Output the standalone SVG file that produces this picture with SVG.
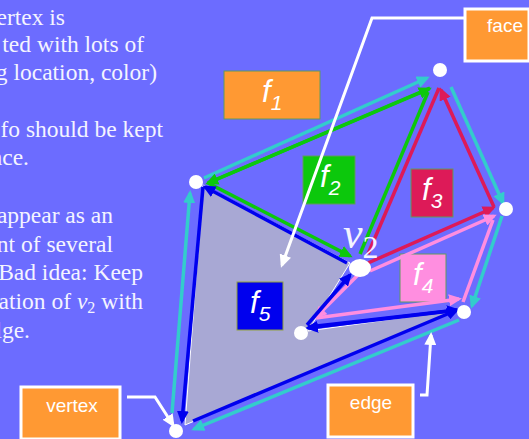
<svg xmlns="http://www.w3.org/2000/svg" width="529" height="439" viewBox="0 0 529 439">
<style>
.t{font-family:"Liberation Serif",serif;font-size:23.5px;fill:#f4f4ff;text-anchor:end}
.s{font-family:"Liberation Sans",Arial,sans-serif;fill:#fff}
.i{font-style:italic;font-size:31px}
.b{font-size:19px;text-anchor:middle}
.sub{font-size:21px;font-style:italic}
.l{fill:none;stroke-width:3.5}
.teal{stroke:#33cccc}.grn{stroke:#0cc80c}.red{stroke:#dd1a58}.pnk{stroke:#ff8ee0}.blu{stroke:#0000ee}
.wh{fill:none;stroke:#fff;stroke-width:3}
.d{fill:#fff}
.fb{stroke:#5f9a60;stroke-width:1}
.lb{fill:#ff9933;stroke:#fff;stroke-width:3}
</style>
<defs>
<marker id="mt" markerUnits="userSpaceOnUse" markerWidth="14" markerHeight="12" refX="10" refY="6" orient="auto"><path d="M0 0L13 6L0 12z" fill="#33cccc"/></marker>
<marker id="mg" markerUnits="userSpaceOnUse" markerWidth="14" markerHeight="12" refX="10" refY="6" orient="auto"><path d="M0 0L13 6L0 12z" fill="#0cc80c"/></marker>
<marker id="mr" markerUnits="userSpaceOnUse" markerWidth="14" markerHeight="12" refX="10" refY="6" orient="auto"><path d="M0 0L13 6L0 12z" fill="#dd1a58"/></marker>
<marker id="mp" markerUnits="userSpaceOnUse" markerWidth="14" markerHeight="12" refX="10" refY="6" orient="auto"><path d="M0 0L13 6L0 12z" fill="#ff8ee0"/></marker>
<marker id="mb" markerUnits="userSpaceOnUse" markerWidth="14" markerHeight="12" refX="10" refY="6" orient="auto"><path d="M0 0L13 6L0 12z" fill="#0000ee"/></marker>
<marker id="mw" markerUnits="userSpaceOnUse" markerWidth="14" markerHeight="12" refX="10" refY="6" orient="auto"><path d="M0 0L13 6L0 12z" fill="#fff"/></marker>
</defs>
<rect width="529" height="439" fill="#6c6cff"/>
<g id="body-text">
<text class="t" x="65" y="25">ertex is</text>
<text class="t" x="144" y="52">ted with lots of</text>
<text class="t" x="157" y="80">g location, color)</text>
<text class="t" x="163" y="137">fo should be kept</text>
<text class="t" x="29" y="165">nce.</text>
<text class="t" x="113" y="223">appear as an</text>
<text class="t" x="113" y="252">nt of several</text>
<text class="t" x="143" y="280">Bad idea: Keep</text>
<text class="t" x="143" y="309">ation of <tspan font-style="italic">v</tspan><tspan font-size="16" dy="4">2</tspan><tspan dy="-4"> with</tspan></text>
<text class="t" x="30" y="338">lge.</text>
</g>
<polygon id="shaded-face" points="203,185 350,263 308,331 458,310 185,425" fill="#a8a8d4" stroke="#fff" stroke-width="1"/>
<g id="f1"><rect class="fb" x="224" y="71" width="96" height="48" fill="#ff9933"/><text class="s i" x="262" y="102">f<tspan class="sub" dy="8">1</tspan></text></g>
<g id="f2"><rect class="fb" x="303" y="156" width="52" height="48" fill="#0cc80c"/><text class="s i" x="320" y="187">f<tspan class="sub" dy="8">2</tspan></text></g>
<g id="f3"><rect class="fb" x="411" y="169" width="42" height="48" fill="#dd1a58"/><text class="s i" x="422" y="200">f<tspan class="sub" dy="8">3</tspan></text></g>
<g id="f4"><rect class="fb" x="400" y="254" width="46" height="48" fill="#ff8ee0"/><text class="s i" x="413" y="285">f<tspan class="sub" dy="8">4</tspan></text></g>
<g id="f5"><rect x="237" y="282" width="46" height="48" fill="#0000ee" stroke="#8f9f3f"/><text class="s i" x="250" y="313">f<tspan class="sub" dy="8">5</tspan></text></g>
<g id="connectors">
<path class="l teal" d="M172 413L190 193" marker-end="url(#mt)"/>
<path class="l teal" d="M204 178L427 78" marker-end="url(#mt)"/>
<path class="l teal" d="M451 87L503 203" marker-end="url(#mt)"/>
<path class="l teal" d="M502 216L472 306" marker-end="url(#mt)"/>
<path class="l teal" d="M459 320L194 429" marker-end="url(#mt)"/>
<path class="l grn" d="M430 88L208 183" marker-end="url(#mg)"/>
<path class="l grn" d="M208 183L429 89" marker-end="url(#mg)"/>
<path class="l grn" d="M208 183L350 256" marker-end="url(#mg)"/>
<path class="l grn" d="M360 254L428 92"/>
<path class="l red" d="M368 254L439 88"/>
<path class="l red" d="M494 207L441 90" marker-end="url(#mr)"/>
<path class="l red" d="M368 263L493 208" marker-end="url(#mr)"/>
<path class="l pnk" d="M370 271L494 216" marker-end="url(#mp)"/>
<path class="l pnk" d="M493 220L463 302"/>
<path class="l pnk" d="M316 318L459 299" marker-end="url(#mp)"/>
<path class="l pnk" d="M358 275L316 317" marker-end="url(#mp)"/>
<path class="l blu" d="M347 263L205 187" marker-end="url(#mb)"/>
<path class="l blu" d="M203 187L182 421" marker-end="url(#mb)"/>
<path class="l blu" d="M193 421L457 310" marker-end="url(#mb)"/>
<path class="l blu" d="M308 327L457 310" marker-end="url(#mb)"/>
<path class="l blu" d="M450 311L308 328" marker-end="url(#mb)"/>
<path class="l blu" d="M307 325L350 275" marker-end="url(#mb)"/>
<path class="wh" d="M465 18H372L282 265" marker-end="url(#mw)"/>
<path class="wh" d="M127 397H155L173 425" marker-end="url(#mw)"/>
<path class="wh" d="M420 395H427L431 335" marker-end="url(#mw)"/>
</g>
<g id="v-top"><circle class="d" cx="440" cy="70" r="7"/></g>
<g id="v-left"><circle class="d" cx="196" cy="182" r="7"/></g>
<g id="v-right"><circle class="d" cx="506" cy="209" r="7"/></g>
<g id="v-lowright"><circle class="d" cx="464" cy="312" r="7"/></g>
<g id="v-inner"><circle class="d" cx="301" cy="333" r="7"/></g>
<g id="v-bottom"><circle class="d" cx="176" cy="431" r="7"/></g>
<g id="v2"><ellipse class="d" cx="360" cy="268" rx="11" ry="9"/>
<text x="343" y="248" font-family="Liberation Serif,serif" font-size="44" font-style="italic" fill="#f4f4ff">v<tspan font-style="normal" font-size="32" dy="10">2</tspan></text></g>
<g id="face"><rect class="lb" x="465" y="9" width="64" height="52"/><text class="s b" x="505" y="32">face</text></g>
<g id="vertex"><rect class="lb" x="21" y="387" width="99" height="52"/><text class="s b" x="72" y="412">vertex</text></g>
<g id="edge"><rect class="lb" x="328" y="385" width="85" height="52"/><text class="s b" x="371" y="409">edge</text></g>
</svg>
